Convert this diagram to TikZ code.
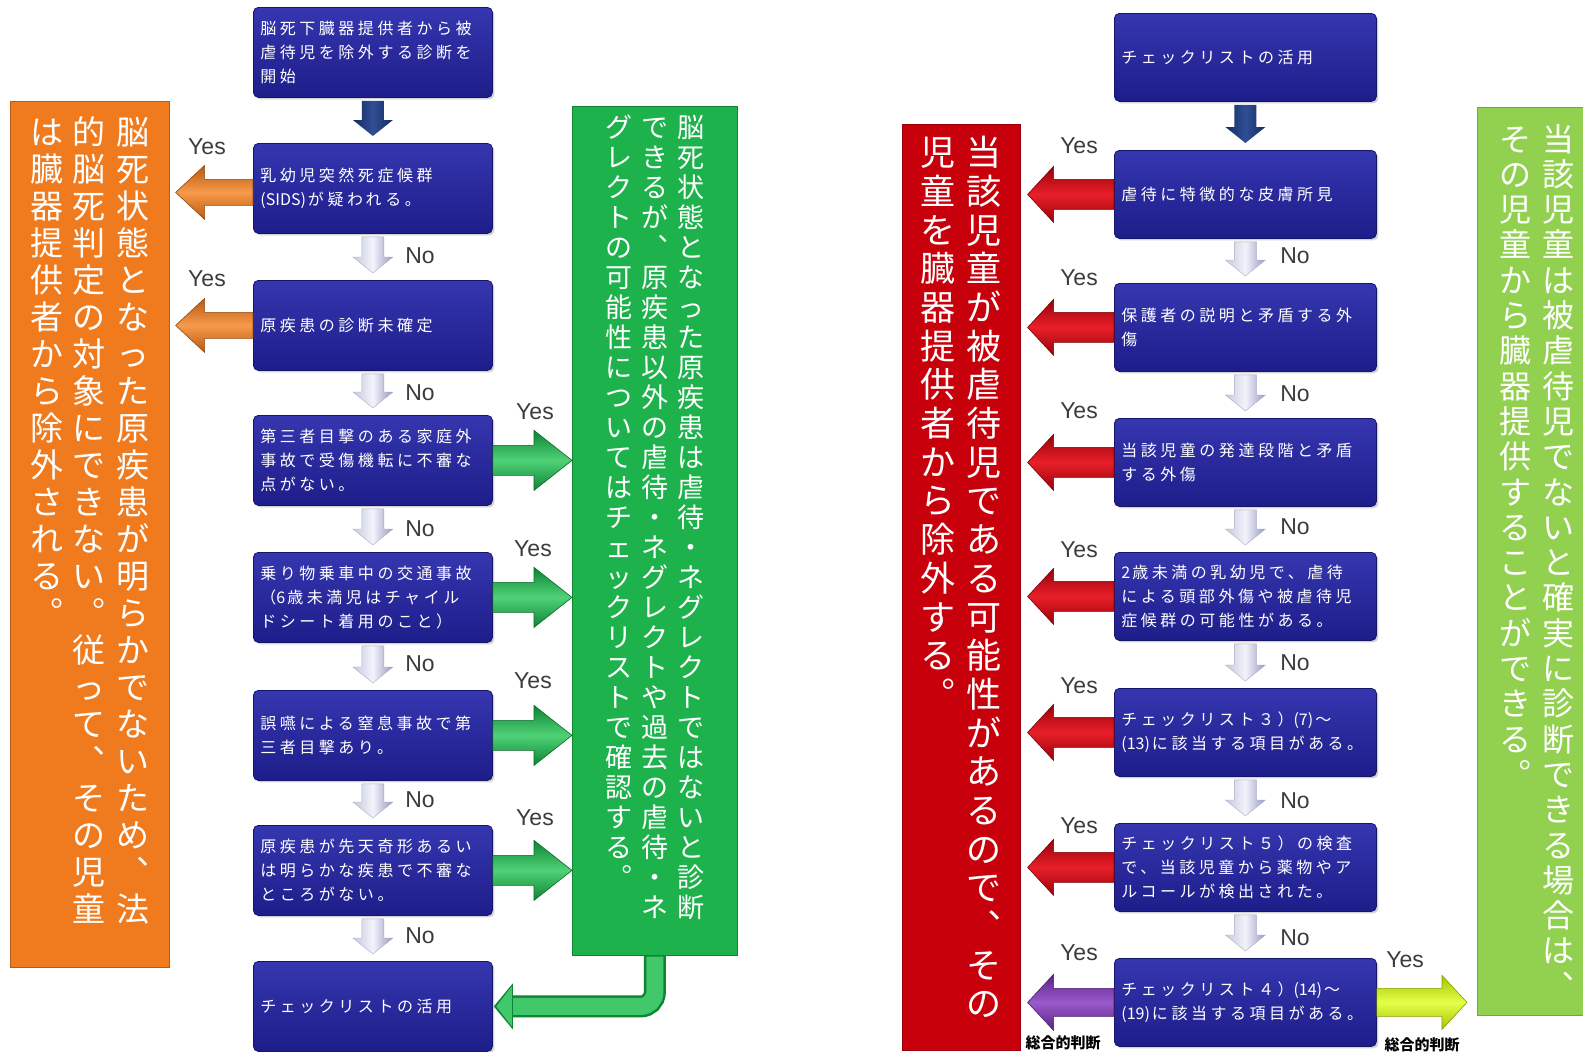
\documentclass[tikz,border=0pt]{standalone}
\usepackage{fontspec}
\setmainfont{Liberation Sans}
\newfontfamily\jp{Noto Sans CJK JP}
\newfontfamily\jpbox[LetterSpace=22]{Noto Sans CJK JP}
\usetikzlibrary{calc,shadows}

\definecolor{boxTop}{HTML}{3636B0}
\definecolor{boxBot}{HTML}{1D1D8A}
\definecolor{boxEdge}{HTML}{15156A}
\definecolor{orangeC}{HTML}{F07A1E}
\definecolor{orangeD}{HTML}{B85A12}
\definecolor{orangeL}{HTML}{F79A4A}
\definecolor{greenC}{HTML}{1DB24C}
\definecolor{greenD}{HTML}{0E8434}
\definecolor{greenL}{HTML}{4FD277}
\definecolor{redC}{HTML}{C8000C}
\definecolor{redD}{HTML}{9A0008}
\definecolor{redL}{HTML}{E8202A}
\definecolor{lgreenC}{HTML}{92D050}
\definecolor{purpD}{HTML}{5A2286}
\definecolor{purpL}{HTML}{9A5ACC}
\definecolor{yelD}{HTML}{A6C400}
\definecolor{yelL}{HTML}{E4FF4A}
\definecolor{grayL}{HTML}{F2F3FA}
\definecolor{grayM}{HTML}{C6C9DF}
\definecolor{grayD}{HTML}{9299BF}
\definecolor{navyL}{HTML}{2F4F95}
\definecolor{navyD}{HTML}{142A5E}
\definecolor{lblGray}{HTML}{3C3C3C}

\makeatletter
\newdimen\vc@w
\def\vc@end{\vc@end}
\def\vc@aux#1{\ifx\vc@end#1\else\hbox to\vc@w{\hss#1\hss}\expandafter\vc@aux\fi}
\newcommand\vcol[2]{\vtop{\vc@w=1em\baselineskip=#1\lineskip=0pt\lineskiplimit=-100pt\relax\vc@aux#2\vc@end}}
\makeatother
\newcommand\lat[1]{{\jp #1}\hskip2pt}

% horizontal block arrow: style, from, to, shaft half, head half, signed head length
\newcommand\hblock[6]{\path[#1] let \p1=(#2), \p2=(#3) in
  (\x1,\y1+#4) -- ({\x2-(#6)},\y1+#4) -- ({\x2-(#6)},\y1+#5) -- (\x2,\y1)
  -- ({\x2-(#6)},\y1-#5) -- ({\x2-(#6)},\y1-#4) -- (\x1,\y1-#4) -- cycle;}
% vertical (downward) block arrow
\newcommand\vblock[6]{\path[#1] let \p1=(#2), \p2=(#3) in
  (\x1-#4,\y1) -- (\x1-#4,\y2+#6) -- (\x1-#5,\y2+#6) -- (\x1,\y2)
  -- (\x1+#5,\y2+#6) -- (\x1+#4,\y2+#6) -- (\x1+#4,\y1) -- cycle;}

\tikzset{
  flowbox/.style={rounded corners=5pt, top color=boxTop, bottom color=boxBot,
    draw=boxEdge, line width=0.8pt, text=white, align=left, inner xsep=7pt,
    inner ysep=4pt, font=\jpbox\fontsize{16}{24}\selectfont, anchor=north west,
    drop shadow={opacity=0.35,shadow xshift=2pt,shadow yshift=-2pt}},
  lbox/.style={flowbox, text width=225pt, minimum height=90pt},
  rbox/.style={flowbox, text width=248pt, minimum height=88pt},
  bigbox/.style={anchor=north west, inner sep=0pt, line width=0.6pt},
  vtext/.style={anchor=north, inner sep=0pt, text=white},
  lbl/.style={font=\fontsize{23}{23}\selectfont, text=lblGray, inner sep=0pt},
  sogo/.style={font=\jp\bfseries\fontsize{15}{15}\selectfont, text=black, inner sep=0pt},
  grayarrow/.style={left color=grayM, right color=grayD, middle color=grayL, draw=grayD!80!white, line width=0.4pt},
  navyarrow/.style={left color=navyD, right color=navyD, middle color=navyL},
  orangearrow/.style={top color=orangeD, bottom color=orangeD, middle color=orangeL, draw=orangeD!80!black, line width=0.6pt},
  greenarrow/.style={top color=greenD, bottom color=greenD, middle color=greenL, draw=greenD!80!black, line width=0.6pt},
  redarrow/.style={top color=redD, bottom color=redD, middle color=redL, draw=redD!80!black, line width=0.6pt},
  purplearrow/.style={top color=purpD, bottom color=purpD, middle color=purpL, draw=purpD!80!black, line width=0.6pt},
  yellowarrow/.style={top color=yelD, bottom color=yelD, middle color=yelL, draw=yelD!80!black, line width=0.6pt},
}

\begin{document}
\begin{tikzpicture}[x=1pt,y=-1pt]
\useasboundingbox[fill=white] (0,0) rectangle (1583,1052);

% ---------- big coloured boxes ----------
\node[bigbox, fill=orangeC, draw=orangeD, minimum width=159pt, minimum height=866pt] (org) at (10,101) {};
\node[bigbox, fill=greenC, draw=greenD, minimum width=165pt, minimum height=849pt] (grn) at (572,106) {};
\node[bigbox, fill=redC, draw=redD, minimum width=118pt, minimum height=926pt] (red) at (902,124) {};
\node[bigbox, fill=lgreenC, draw=lgreenC!80!black, minimum width=125pt, minimum height=908pt] (lgr) at (1477,107) {};

\node[vtext] (orgtxt) at (89.5,116) {\jp\fontsize{33}{37}\selectfont\hbox{%
  \vcol{37pt}{は臓器提供者から除外される︒}\hskip10pt
  \vcol{37pt}{的脳死判定の対象にできない︒従って︑その児童}\hskip10pt
  \vcol{37pt}{脳死状態となった原疾患が明らかでないため︑法}}};
\node[vtext] (grntxt) at (654.5,115) {\jp\fontsize{27}{30}\selectfont\hbox{%
  \vcol{30pt}{グレクトの可能性についてはチェックリストで確認する︒}\hskip9pt
  \vcol{30pt}{できるが︑原疾患以外の虐待・ネグレクトや過去の虐待・ネ}\hskip9pt
  \vcol{30pt}{脳死状態となった原疾患は虐待・ネグレクトではないと診断}}};
\node[vtext] (redtxt) at (961,136) {\jp\fontsize{35}{38.7}\selectfont\hbox{%
  \vcol{38.7pt}{児童を臓器提供者から除外する︒}\hskip11pt
  \vcol{38.7pt}{当該児童が被虐待児である可能性があるので︑その}}};
\node[vtext] (lgrtxt) at (1536.5,124) {\jp\fontsize{32}{35.3}\selectfont\hbox{%
  \vcol{35.3pt}{その児童から臓器提供することができる︒}\hskip11pt
  \vcol{35.3pt}{当該児童は被虐待児でないと確実に診断できる場合は︑}}};

% ---------- left flow ----------
\node[lbox] (b1) at (253,7) {脳死下臓器提供者から被\\虐待児を除外する診断を\\開始};
\node[lbox] (b2) at (253,143) {乳幼児突然死症候群\\\lat{(SIDS)}が疑われる。};
\node[lbox] (b3) at (253,280) {原疾患の診断未確定};
\node[lbox] (b4) at (253,415) {第三者目撃のある家庭外\\事故で受傷機転に不審な\\点がない。};
\node[lbox] (b5) at (253,552) {乗り物乗車中の交通事故\\（\lat{6}歳未満児はチャイル\\ドシート着用のこと）};
\node[lbox] (b6) at (253,690) {誤嚥による窒息事故で第\\三者目撃あり。};
\node[lbox] (b7) at (253,825) {原疾患が先天奇形あるい\\は明らかな疾患で不審な\\ところがない。};
\node[lbox] (b8) at (253,961) {チェックリストの活用};

% ---------- right flow ----------
\node[rbox] (r1) at (1114,13) {チェックリストの活用};
\node[rbox] (r2) at (1114,150) {虐待に特徴的な皮膚所見};
\node[rbox] (r3) at (1114,283) {保護者の説明と矛盾する外\\傷};
\node[rbox] (r4) at (1114,418) {当該児童の発達段階と矛盾\\する外傷};
\node[rbox] (r5) at (1114,552) {\lat{2}歳未満の乳幼児で、虐待\\による頭部外傷や被虐待児\\症候群の可能性がある。};
\node[rbox] (r6) at (1114,688) {チェックリスト３）\lat{(7)}～\\\lat{(13)}に該当する項目がある。};
\node[rbox] (r7) at (1114,823) {チェックリスト５）の検査\\で、当該児童から薬物やア\\ルコールが検出された。};
\node[rbox] (r8) at (1114,958) {チェックリスト４）\lat{(14)}～\\\lat{(19)}に該当する項目がある。};

% ---------- down arrows ----------
\vblock{navyarrow}{[yshift=-3pt]b1.south}{[yshift=7pt]b2.north}{11pt}{20pt}{16pt}
\vblock{navyarrow}{[yshift=-3pt]r1.south}{[yshift=7pt]r2.north}{11pt}{20pt}{16pt}
\foreach \a/\b in {b2/b3,b3/b4,b4/b5,b5/b6,b6/b7,b7/b8,r2/r3,r3/r4,r4/r5,r5/r6,r6/r7,r7/r8}{
  \vblock{grayarrow}{[yshift=-3pt]\a.south}{[yshift=7pt]\b.north}{11pt}{20pt}{16pt}
}

% ---------- side arrows ----------
\hblock{orangearrow}{[yshift=-4pt]b2.west}{[xshift=6pt]org.east}{13pt}{27pt}{-29pt}
\hblock{orangearrow}{b3.west}{[xshift=6pt]org.east}{13pt}{27pt}{-29pt}
\foreach \a in {b4,b5,b6,b7}{
  \hblock{greenarrow}{\a.east}{grn.west}{15pt}{30pt}{38pt}
}
\foreach \a in {r2,r3,r4,r5,r6,r7}{
  \hblock{redarrow}{\a.west}{[xshift=7pt]red.east}{15pt}{28pt}{-26pt}
}
\hblock{purplearrow}{r8.west}{[xshift=7pt]red.east}{14pt}{28pt}{-26pt}
\hblock{yellowarrow}{r8.east}{[xshift=-10pt]lgr.west}{14pt}{27pt}{25pt}

% bent green arrow
\draw[line width=22pt, draw=greenD, rounded corners=14pt] (grn.south) |- ([xshift=16pt]b8.east);
\draw[line width=17pt, draw=greenL!70!greenC, rounded corners=14pt] ([yshift=-1pt]grn.south) |- ([xshift=18pt]b8.east);
\fill[greenD] ([xshift=20pt,yshift=23pt]b8.east) -- ([xshift=1pt]b8.east) -- ([xshift=20pt,yshift=-23pt]b8.east) -- cycle;
\fill[greenL!70!greenC] ([xshift=19pt,yshift=20pt]b8.east) -- ([xshift=3.5pt]b8.east) -- ([xshift=19pt,yshift=-20pt]b8.east) -- cycle;

% ---------- labels ----------
\node[lbl] (y1) at (207,147) {Yes};
\node[lbl] (y2) at (207,279) {Yes};
\node[lbl] (y3) at (535,412) {Yes};
\node[lbl] (y4) at (533,549) {Yes};
\node[lbl] (y5) at (533,681) {Yes};
\node[lbl] (y6) at (535,818) {Yes};
\foreach \n/\yy in {1/256,2/393,3/529,4/664,5/800,6/936}{
  \node[lbl] (nl\n) at (420,\yy) {No};
}
\foreach \n/\yy in {1/146,2/278,3/411,4/550,5/686,6/826,7/953}{
  \node[lbl] (yr\n) at (1079,\yy) {Yes};
}
\node[lbl] (yr8) at (1405,960) {Yes};
\foreach \n/\yy in {1/256,2/394,3/527,4/663,5/801,6/938}{
  \node[lbl] (nr\n) at (1295,\yy) {No};
}
\node[sogo] (s1) at (1063,1043) {総合的判断};
\node[sogo] (s2) at (1422,1045) {総合的判断};
\end{tikzpicture}
\end{document}
